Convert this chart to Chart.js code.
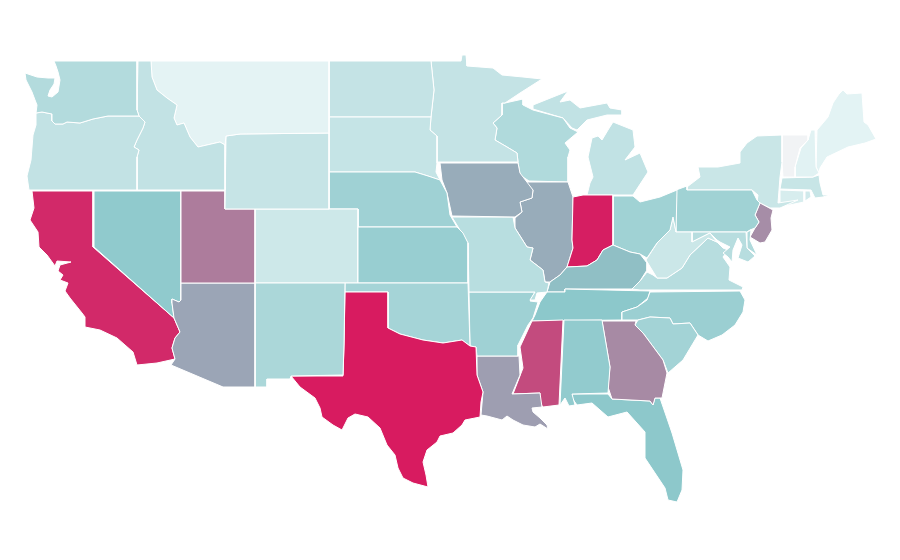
<!DOCTYPE html>
<html><head><meta charset="utf-8">
<style>html,body{margin:0;padding:0;background:#fff}canvas{display:block}</style>
<script src="https://cdn.jsdelivr.net/npm/chart.js@4"></script>
</head><body><canvas id="c" width="900" height="560"></canvas>
<script>
const WA=[54,61,137,61,137,110,139,116,108,116,93,119,80,123,67,122,63,124,55,124,52,121,52,114,42,112,36,113,37,105,35,100,32,92,26,80,25,73,37,77,48,78,55,78,54,84,50,90,48,96,52,97,58,92,60,80,58,72,56,66];
const OR=[36,113,42,112,52,114,52,121,55,124,63,124,67,122,80,123,93,119,108,116,139,116,145,122,143,128,137,140,134,147,139,150,137,157,137,190,29,190,27,176,31,160,33,135,36,125];
const ID=[138,61,151,61,152,77,157,90,167,98,177,105,174,118,177,125,184,123,190,137,198,147,220,142,225,145,225,190,137,190,137,157,139,150,134,147,137,140,143,128,145,122,139,116,137,110];
const MT=[151,61,329,61,329,133,240,134,226,136,225,145,220,142,198,147,190,137,184,123,177,125,174,118,177,105,167,98,157,90,152,77];
const WY=[226,136,240,134,329,133,329,209,225,209];
const UT=[181,191,225,191,225,209,255,209,255,283,181,283];
const AZ=[181,283,255,283,255,387,223,387,171,365,175,359,172,348,175,338,180,332,174,318,172,303,172,299,179,302,181,300];
const NV=[94,191,181,191,181,300,179,302,172,299,172,303,174,318,94,247];
const CA=[32,191,93,191,93,247,174,318,180,332,175,338,172,348,175,359,157,363,137,365,133,352,117,338,100,330,85,327,85,317,82,313,70,298,65,291,68,283,60,280,63,275,58,271,60,265,71,262,57,261,55,266,47,255,39,247,38,232,30,220,34,208];
const NM=[255,283,345,283,344,345,343,375,291,376,290,379,267,379,267,387,255,387];
const TX=[345,292,388,292,388,328,400,334,423,340,443,343,462,340,470,346,476,347,477,375,483,392,481,402,480,417,465,420,462,425,453,433,440,436,437,442,427,450,423,462,426,475,428,487,413,483,403,478,398,468,395,455,387,445,380,428,368,417,355,414,348,418,342,430,333,425,322,417,320,408,315,398,300,387,291,376,343,376,344,345];
const OK=[345,283,468,283,470,346,462,340,443,343,423,340,400,334,388,328,388,292,345,292];
const KS=[358,227,457,227,463,233,468,243,468,283,358,283];
const CO=[255,209,358,209,358,283,255,283];
const NE=[329,172,415,172,428,176,440,180,447,193,450,215,457,227,358,227,358,209,329,209];
const SD=[329,117,431,117,430,130,437,136,437,163,436,172,440,180,428,176,415,172,329,172];
const ND=[329,61,431,61,434,90,431,117,329,117];
const MN=[431,61,461,61,462,55,466,55,467,66,493,68,502,75,523,77,542,79,520,93,505,103,502,103,502,115,493,123,497,128,495,140,507,147,517,153,518,162,437,162,437,136,430,130,431,117,434,90];
const IA=[440,163,518,163,520,173,533,190,532,198,520,202,522,212,515,217,452,216,447,193,442,180];
const MO=[452,217,513,217,515,228,527,247,533,248,530,260,543,270,545,282,549,283,547,292,537,293,535,300,530,300,535,292,469,292,468,243,463,235];
const AR=[469,292,535,292,530,301,538,302,533,318,528,325,518,345,518,356,477,356,476,347,470,346];
const LA=[477,356,519,356,520,375,512,394,540,393,542,407,532,408,533,412,540,418,547,425,548,429,540,424,535,427,523,425,513,420,507,416,502,420,487,416,481,415,483,392,477,375];
const MS=[532,321,563,320,559,405,543,407,539,402,540,393,513,394,523,368,520,347];
const AL=[564,320,602,320,610,367,608,393,572,394,575,405,569,406,565,398,560,405];
const GA=[602,321,636,321,635,325,643,333,663,360,667,373,662,398,655,398,653,405,650,401,612,399,608,387,610,367];
const FL=[572,394,608,394,612,399,650,401,653,405,655,398,660,398,672,433,683,470,682,490,677,502,668,500,665,488,655,473,645,458,645,432,627,412,608,417,592,403,577,405,572,398];
const SC=[635,325,638,320,650,317,670,318,673,324,690,323,698,335,683,360,668,373,663,360,643,333];
const NC=[622,320,622,312,637,307,647,300,650,292,740,291,745,300,743,312,735,325,722,335,708,341,698,335,690,323,673,324,670,318,650,317,638,320];
const TN=[547,292,565,292,565,289,650,291,648,298,637,307,622,312,622,320,532,321,535,315,540,302];
const KY=[547,292,550,282,560,275,567,267,587,266,597,260,603,250,613,245,630,252,640,254,647,263,647,270,640,281,632,289,565,289,565,292];
const IN=[573,197,583,195,613,195,613,245,603,250,597,260,587,266,567,267,573,248,572,240];
const IL=[520,182,568,182,573,197,572,240,573,248,567,267,560,275,550,282,545,282,543,270,530,260,533,248,527,247,515,228,515,218,522,212,520,202,532,198,533,190];
const WI=[505,103,523,99,523,105,533,110,563,118,570,128,578,132,565,143,570,150,568,157,568,182,529,181,520,175,518,162,517,153,507,147,495,140,497,128,493,123,502,115,502,103];
const MIU=[533,109,533,105,558,95,568,91,560,102,570,100,580,108,607,103,610,108,622,110,622,115,607,115,587,120,577,130,572,128,563,118];
const MIL=[587,195,590,183,593,177,588,157,592,138,598,136,602,140,608,130,613,122,633,130,635,147,625,160,640,153,648,172,633,195];
const OH=[613,196,633,196,640,202,660,197,677,190,676,232,673,217,670,230,657,243,647,258,640,254,630,252,613,245];
const WV=[673,217,676,232,692,232,692,242,702,237,710,233,717,242,708,238,690,255,682,268,667,278,657,278,646,260,657,243,670,230];
const MD=[692,232,746,232,747,248,755,256,748,262,738,258,742,245,738,238,733,250,732,262,728,257,723,253,730,247,720,242,717,240,710,233,702,237,692,242];
const DE=[747,232,751,230,750,240,757,255,747,248];
const VA=[632,289,640,281,647,272,653,275,657,278,667,278,682,268,690,255,708,238,717,242,723,248,728,250,723,257,730,267,729,280,743,287,742,290,640,290];
const PA=[676,190,687,186,687,190,752,190,757,200,760,203,755,215,759,222,755,228,750,230,747,232,676,232];
const NJ=[760,203,773,210,771,218,772,230,765,242,760,243,750,237,755,228,759,222,755,215];
const NY=[687,187,700,177,698,167,718,167,740,163,740,152,747,143,757,136,782,135,782,162,780,177,778,203,798,200,780,208,770,208,760,203,757,202,758,195,752,190,687,190];
const VT=[782,135,808,135,808,140,800,148,795,167,795,177,783,177,782,162];
const NH=[795,177,795,167,801,148,808,140,811,130,815,130,816,167,819,173,813,177];
const ME=[817,130,823,123,828,117,833,103,839,94,843,90,847,94,862,93,864,122,868,125,876,139,865,143,848,147,827,157,820,168,819,173,816,167];
const MA=[782,178,813,177,819,175,820,183,823,195,830,195,823,197,815,198,811,190,780,189];
const CT=[780,190,804,191,804,202,780,207];
const RI=[805,191,810,191,811,197,805,201];

const stateNames=["Washington","Oregon","Idaho","Montana","Wyoming","Utah","Arizona","Nevada","California","New Mexico","Texas","Oklahoma","Kansas","Colorado","Nebraska","South Dakota","North Dakota","Minnesota","Iowa","Missouri","Arkansas","Louisiana","Mississippi","Alabama","Georgia","Florida","South Carolina","North Carolina","Tennessee","Kentucky","Indiana","Illinois","Wisconsin","Michigan (upper)","Michigan (lower)","Ohio","West Virginia","Maryland","Delaware","Virginia","Pennsylvania","New Jersey","New York","Vermont","New Hampshire","Maine","Massachusetts","Connecticut","Rhode Island"];
const stateValues=[30.5,23,23,6,21,72,60,48,96,34.5,100,37.5,44,17.5,40.5,21.5,22,22,58,28,40.5,62,86,47,68,49.5,38.5,42.5,50,52.6,99,58,32,23.5,23.5,40,18.5,28.5,32,28.5,40,67,19.5,0,7.5,6.5,20.5,12.5,16];
const stateOutlines=[WA,OR,ID,MT,WY,UT,AZ,NV,CA,NM,TX,OK,KS,CO,NE,SD,ND,MN,IA,MO,AR,LA,MS,AL,GA,FL,SC,NC,TN,KY,IN,IL,WI,MIU,MIL,OH,WV,MD,DE,VA,PA,NJ,NY,VT,NH,ME,MA,CT,RI];

const rampStops=[0,6,50,100];
const rampColors=[[241,243,245],[228,243,244],[140,200,203],[216,27,96]];
function ramp(v){
  let k=0;
  while(k<rampStops.length-2&&v>rampStops[k+1])k++;
  const t=(v-rampStops[k])/(rampStops[k+1]-rampStops[k]);
  return 'rgb('+rampColors[k].map((c,i)=>Math.round(c+(rampColors[k+1][i]-c)*t)).join(',')+')';
}
function toPoints(flat){
  const pts=[];
  for(let i=0;i<flat.length;i+=2)pts.push({x:flat[i],y:flat[i+1]});
  pts.push({x:flat[0],y:flat[1]});
  return pts;
}
new Chart(document.getElementById('c'),{
  type:'scatter',
  data:{datasets:stateNames.map((name,i)=>({
    label:name,
    data:toPoints(stateOutlines[i]),
    showLine:true,
    fill:'shape',
    backgroundColor:ramp(stateValues[i]),
    borderColor:'#ffffff',
    borderWidth:1,
    pointRadius:0,
    pointHoverRadius:0,
    tension:0
  }))},
  options:{
    responsive:false,
    animation:false,
    layout:{padding:0},
    plugins:{legend:{display:false},title:{display:false},tooltip:{enabled:false}},
    scales:{
      x:{type:'linear',min:0,max:900,display:false},
      y:{type:'linear',min:0,max:560,reverse:true,display:false}
    }
  }
});
</script></body></html>
